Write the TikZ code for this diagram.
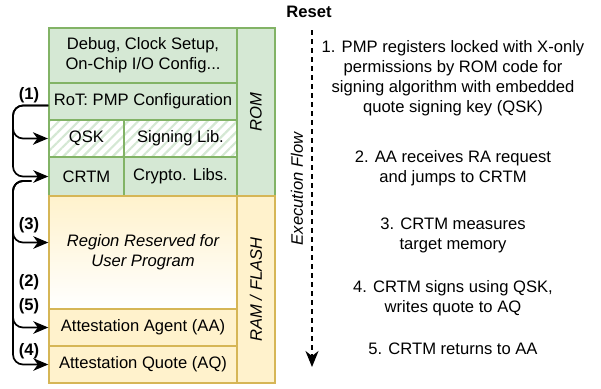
\documentclass[tikz,border=0pt]{standalone}
\usepackage{fontspec}
\setmainfont{Liberation Sans}
\usetikzlibrary{arrows.meta,patterns.meta}
\definecolor{gfill}{HTML}{D5E8D4}
\definecolor{gline}{HTML}{82B366}
\definecolor{yfill}{HTML}{FFF2CC}
\definecolor{yline}{HTML}{D6B656}
\newcommand{\fsz}{\fontsize{16.6}{20}\selectfont}
\tikzset{
  gbox/.style={draw=gline, fill=gfill, line width=1.4pt, inner sep=0pt, align=center, font=\fsz},
  hbox/.style={draw=gline, line width=1.4pt, inner sep=0pt, align=center, font=\fsz,
    pattern={Lines[angle=45,distance=7pt,line width=2.2pt]}, pattern color=gfill},
  ybox/.style={draw=yline, fill=yfill, line width=1.4pt, inner sep=0pt, align=center, font=\fsz},
  flow/.style={line width=1.7pt, rounded corners=10pt, -{Stealth[length=15pt,width=12.5pt,inset=4.5pt]}},
  steplabel/.style={font=\fsz\bfseries, inner sep=0pt},
  desc/.style={font=\fsz, align=center, inner sep=0pt},
}
\begin{document}
\begin{tikzpicture}[x=1pt,y=-1pt]
\useasboundingbox (0,0) rectangle (601,388);
% ROM part
\node[gbox, minimum width=188pt, minimum height=55pt] (dbg) at (143,55.5) {Debug, Clock Setup,\\On-Chip I/O Config...};
\node[gbox, minimum width=188pt, minimum height=37pt] (rot) at (143,101.5) {RoT: PMP Configuration};
\node[hbox, minimum width=75pt, minimum height=37pt] (qsk) at (86.5,138.5) {QSK};
\node[hbox, minimum width=113pt, minimum height=37pt] (sig) at (180.5,138.5) {Signing Lib.};
\node[gbox, minimum width=75pt, minimum height=39pt] (crtm) at (86.5,176.5) {CRTM};
\node[gbox, minimum width=113pt, minimum height=39pt] (cry) at (180.5,176.5) {Crypto. Libs.};
\node[gbox, rotate=90, minimum width=168pt, minimum height=38pt, font=\fsz\itshape] (rom) at (256,112) {ROM};
% RAM part
\node[ybox, fill=none, top color=yfill, bottom color=white, minimum width=188pt, minimum height=113pt, font=\fsz\itshape] (reg) at (143,252.5) {Region Reserved for\\User Program};
\node[ybox, minimum width=188pt, minimum height=37pt] (aa) at (143,327.5) {Attestation Agent (AA)};
\node[ybox, minimum width=188pt, minimum height=37pt] (aq) at (143,364.5) {Attestation Quote (AQ)};
\node[ybox, rotate=90, minimum width=187pt, minimum height=38pt, font=\fsz\itshape] (ram) at (256,289.5) {RAM / FLASH};
% connectors
\coordinate (tr) at (13,0);
\draw[flow] ([yshift=-4pt]rot.west) -| (tr |- qsk.west) -- (qsk.west);
\draw[flow] ([yshift=-4pt]rot.west) -| (tr |- crtm.west) -- (crtm.west);
\coordinate (c2) at ([xshift=-17pt,yshift=-4.5pt]crtm.west);
\coordinate (regin) at ([yshift=10pt]reg.west);
\draw[flow] (c2) -| (tr |- regin) -- (regin);
\draw[flow] (c2) -| (tr |- aa.west) -- (aa.west);
\draw[flow] (c2) -| (tr |- aq.west) -- (aq.west);
% step labels
\node[steplabel] (l1) at (29,95) {(1)};
\node[steplabel] (l3) at (29,225) {(3)};
\node[steplabel] (l2) at (29,282) {(2)};
\node[steplabel] (l5) at (29,306) {(5)};
\node[steplabel] (l4) at (29,351) {(4)};
% execution flow
\node[font=\fsz\bfseries, inner sep=0pt] (reset) at (309,12) {Reset};
\coordinate (fs) at (312,30);
\coordinate (fe) at (312,367);
\draw[line width=1.6pt, dash pattern=on 5pt off 4pt, -{Stealth[length=16pt,width=13pt,inset=5pt]}] (fs) -- (fe);
\node[font=\fsz\itshape, rotate=90, inner sep=0pt] (ef) at (297,189) {Execution Flow};
% descriptions
\node[desc] (d1) at (453,78) {1. PMP registers locked with X-only\\permissions by ROM code for\\signing algorithm with embedded\\quote signing key (QSK)};
\node[desc] (d2) at (453,168) {2. AA receives RA request\\and jumps to CRTM};
\node[desc] (d3) at (453,235) {3. CRTM measures\\target memory};
\node[desc] (d4) at (453,298) {4. CRTM signs using QSK,\\writes quote to AQ};
\node[desc] (d5) at (453,349) {5. CRTM returns to AA};
\end{tikzpicture}
\end{document}
